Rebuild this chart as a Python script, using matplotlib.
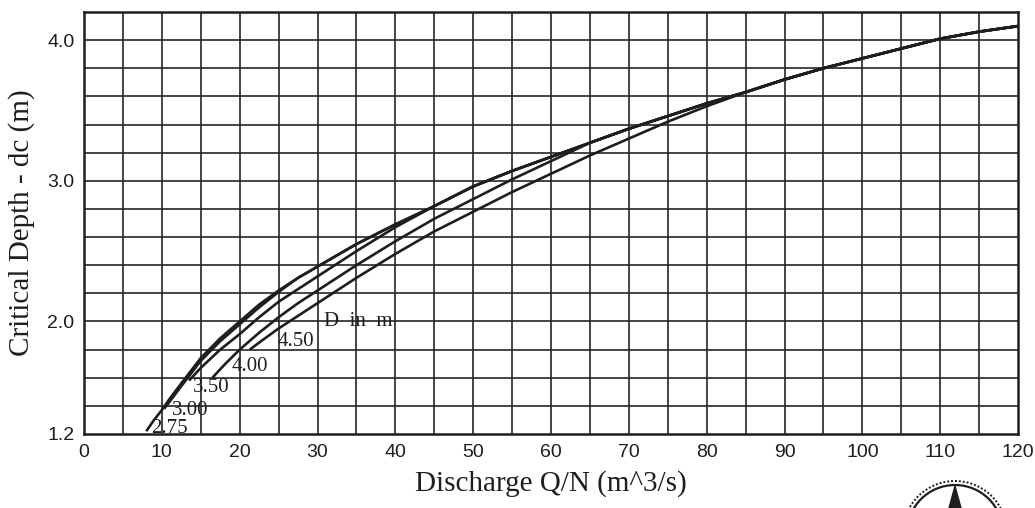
import matplotlib
matplotlib.use('Agg')
import matplotlib.pyplot as plt
from matplotlib.patches import Circle, Polygon

# pipe diameters D (m) and the curves
diametros = ['2.75', '3.00', '3.50', '4.00', '4.50']

# common upper part of the curves (all diameters merge there)
q_topo = [45, 50, 55, 60, 65, 70, 75, 80, 85, 90, 95, 100, 105, 110, 115, 120]
dc_topo = [2.82, 2.96, 3.07, 3.17, 3.27, 3.37, 3.46, 3.55, 3.63, 3.72, 3.80, 3.87, 3.94, 4.01, 4.06, 4.10]

q_275 = [8, 9, 10, 11, 12.5, 15, 17.5, 20, 22.5, 25, 27.5, 30, 35, 40]
dc_275 = [1.22, 1.30, 1.37, 1.45, 1.56, 1.74, 1.88, 2.00, 2.12, 2.22, 2.31, 2.39, 2.55, 2.69]

q_300 = [10.3, 11, 12.5, 15, 17.5, 20, 22.5, 25, 27.5, 30, 35, 40]
dc_300 = [1.38, 1.43, 1.54, 1.72, 1.86, 1.98, 2.10, 2.21, 2.31, 2.39, 2.55, 2.69]

q_350 = [13.5, 15, 17.5, 20, 22.5, 25, 27.5, 30, 35, 40]
dc_350 = [1.58, 1.67, 1.80, 1.91, 2.03, 2.14, 2.23, 2.32, 2.50, 2.67]

q_400 = [16.5, 18, 20, 22.5, 25, 27.5, 30, 35, 40, 45, 50, 55, 60]
dc_400 = [1.60, 1.69, 1.80, 1.92, 2.03, 2.13, 2.22, 2.40, 2.57, 2.73, 2.87, 3.01, 3.14]

q_450 = [21.3, 23, 25, 27.5, 30, 35, 40, 45, 50, 55, 60, 65, 70, 75, 80]
dc_450 = [1.80, 1.87, 1.95, 2.04, 2.13, 2.31, 2.48, 2.64, 2.78, 2.92, 3.05, 3.18, 3.30, 3.42, 3.53]

# label positions of the curve names
rotulo_q = [11.0, 13.6, 16.4, 21.3, 27.2]
rotulo_dc = [1.24, 1.37, 1.53, 1.68, 1.86]

xticks = [0, 10, 20, 30, 40, 50, 60, 70, 80, 90, 100, 110, 120]
yticks = [1.2, 2.0, 3.0, 4.0]

cor = '#1e1e1e'

fig = plt.figure(figsize=(10.35, 5.08), dpi=100)
ax = fig.add_axes([84 / 1035, 1 - 434 / 508, (1018 - 84) / 1035, (434 - 12) / 508])

ax.set_xlim(0, 120)
ax.set_ylim(1.2, 4.2)

# grid: every 5 on Q, every 0.2 on dc
for x in range(5, 120, 5):
    ax.axvline(x, color='#262626', lw=1.2, zorder=1)
for i in range(1, 15):
    ax.axhline(1.2 + 0.2 * i, color='#262626', lw=1.2, zorder=1)

curvas = [
    (q_275 + q_topo, dc_275 + dc_topo),
    (q_300 + q_topo, dc_300 + dc_topo),
    (q_350 + q_topo, dc_350 + dc_topo),
    (q_400 + q_topo[4:], dc_400 + dc_topo[4:]),
    (q_450 + q_topo[8:], dc_450 + dc_topo[8:]),
]
for q, dc in curvas:
    ax.plot(q, dc, color=cor, lw=1.9, zorder=3, solid_capstyle='butt', solid_joinstyle='round')

for nome, xq, yd in zip(diametros, rotulo_q, rotulo_dc):
    ax.text(xq, yd, nome, fontsize=15, family='Liberation Serif', color=cor,
            ha='center', va='center', zorder=4)
ax.text(35.2, 2.0, 'D  in  m', fontsize=15, family='Liberation Serif', color=cor,
        ha='center', va='center', zorder=4)

ax.set_xticks(xticks)
ax.set_yticks(yticks)
ax.set_xticklabels([str(v) for v in xticks], family='Liberation Sans', fontsize=14, color=cor)
ax.set_yticklabels(['%.1f' % v for v in yticks], family='Liberation Sans', fontsize=14, color=cor)
ax.tick_params(length=0, pad=7)

for s in ax.spines.values():
    s.set_linewidth(1.8)
    s.set_color(cor)

ax.set_xlabel('Discharge Q/N (m^3/s)', family='Liberation Serif', fontsize=21, color=cor, labelpad=7)
ax.set_ylabel('Critical Depth - dc (m)', family='Liberation Serif', fontsize=21, color=cor, labelpad=9)

# compass logo cut off at the bottom right corner
logo = fig.add_axes([0, 0, 1, 1], zorder=-1)
logo.set_xlim(0, 1035)
logo.set_ylim(508, 0)
logo.axis('off')
logo.add_patch(Circle((955, 533), 48, fill=False, lw=1.6, color=cor))
logo.add_patch(Circle((955, 533), 52, fill=False, lw=1.4, color=cor, ls=(0, (1, 1))))
logo.add_patch(Polygon([(955, 486), (949, 508), (961, 508)], closed=True, color=cor))

fig.savefig('out.png', dpi=100)
